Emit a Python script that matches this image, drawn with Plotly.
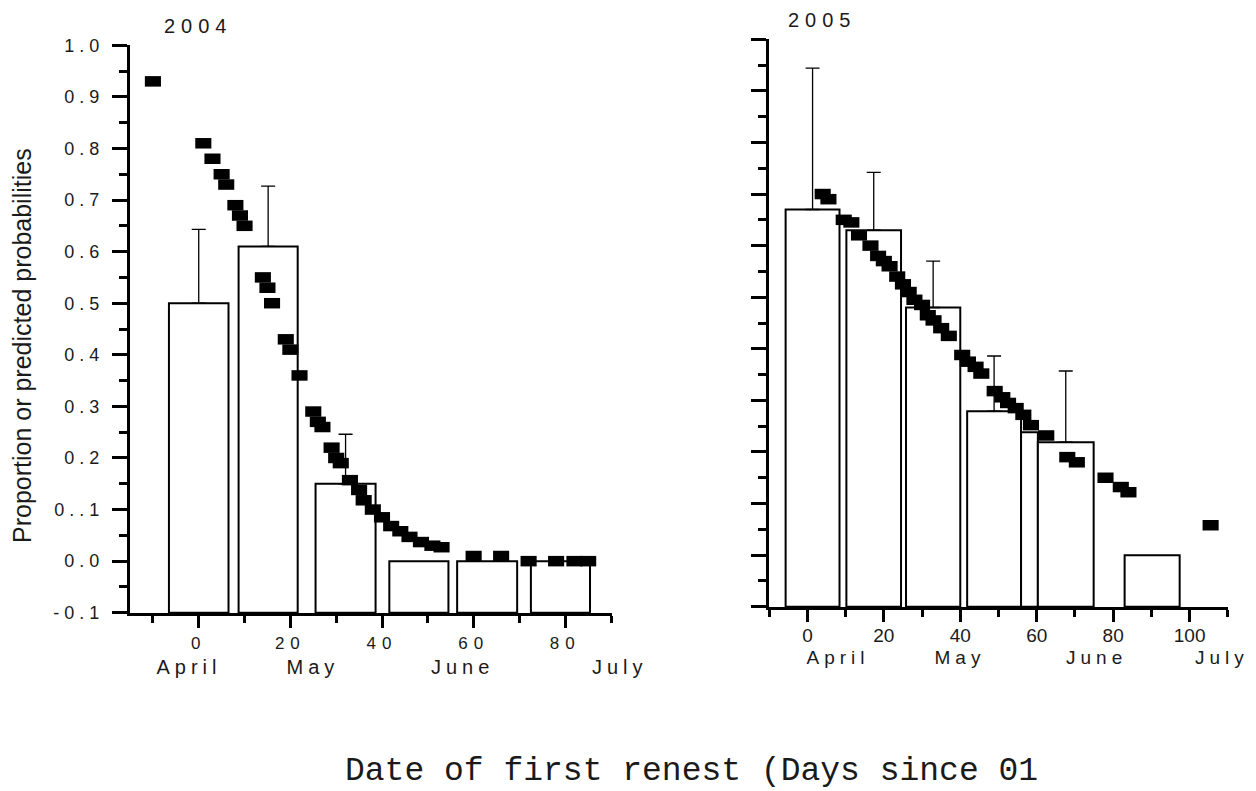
import plotly.graph_objects as go

# ---------------- data ----------------
# 2004: observed proportion renesting per date bin (days since 01 April)
bin_start_2004 = [-6.5, 8.7, 25.5, 41.6, 56.4, 72.5]
bin_end_2004 = [6.5, 21.6, 38.6, 54.5, 69.5, 85.4]
prop_2004 = [0.50, 0.61, 0.15, 0.0, 0.0, 0.0]
upper_2004 = [0.643, 0.727, 0.246, None, None, None]

# 2004: predicted probabilities
pred_day_2004 = [-10, 1, 3, 5, 6, 8, 9, 10, 14, 15, 16, 19, 20, 22, 25, 26, 27,
                 29, 30, 31, 33, 35, 36, 38, 40, 42, 44, 46, 48.5, 51, 53,
                 60, 66, 72, 78, 82, 85]
pred_prob_2004 = [0.93, 0.81, 0.78, 0.75, 0.73, 0.69, 0.67, 0.65, 0.55, 0.53, 0.50,
                  0.43, 0.41, 0.36, 0.29, 0.27, 0.26, 0.22, 0.20, 0.19, 0.157,
                  0.138, 0.118, 0.10, 0.085, 0.068, 0.058, 0.047, 0.037, 0.03,
                  0.027, 0.01, 0.01, 0.0, 0.0, 0.0, 0.0]

# 2005: observed proportion renesting per date bin
bin_start_2005 = [-5.7, 10.2, 25.8, 41.8, 55.9, 60.3, 83.0]
bin_end_2005 = [8.4, 24.5, 40.0, 55.9, 60.3, 74.9, 97.4]
prop_2005 = [0.67, 0.63, 0.48, 0.279, 0.238, 0.219, 0.0]
upper_2005 = [0.944, 0.742, 0.57, 0.386, None, 0.357, None]

# 2005: predicted probabilities
pred_day_2005 = [4, 5.5, 9.5, 11.5, 13.5, 16.5, 18.5, 20, 21.5, 23.5, 25, 26.5, 28,
                 30, 31.5, 33, 35, 37, 40.5, 42, 44, 45.5, 49, 51, 52.5, 54.5,
                 56.5, 58.5, 62.5, 68, 70.5, 78, 82, 84, 105.5]
pred_prob_2005 = [0.70, 0.69, 0.65, 0.645, 0.62, 0.60, 0.58, 0.57, 0.56, 0.54,
                  0.525, 0.51, 0.495, 0.485, 0.465, 0.455, 0.44, 0.425, 0.388,
                  0.375, 0.365, 0.352, 0.318, 0.306, 0.295, 0.285, 0.272, 0.252,
                  0.232, 0.19, 0.18, 0.15, 0.132, 0.122, 0.058]

# axis tick labels
y_tick_vals = [-0.1, 0.0, 0.1, 0.2, 0.3, 0.4, 0.5, 0.6, 0.7, 0.8, 0.9, 1.0]
y_tick_text = ["-0.1", "0.0", "0..1", "0.2", "0.3", "0.4", "0.5", "0.6",
               "0.7", "0.8", "0.9", "1.0"]
months = ["April", "May", "June", "July"]

# ---------------- figure ----------------
W, H = 1256, 791
FLOOR = -0.1
SANS = "Liberation Sans"
INK = "#1a1a1a"

X1_DOMAIN, X1_RANGE = [130 / W, 612 / W], [-15, 90.2]
X2_DOMAIN, X2_RANGE = [769 / W, 1228 / W], [-10.05, 110.05]

fig = go.Figure()


def add_panel(xa, ya, starts, ends, props, uppers, pdays, pprobs):
    centers = [(s + e) / 2 for s, e in zip(starts, ends)]
    widths = [e - s for s, e in zip(starts, ends)]
    # open bars rising from the bottom of the axis
    fig.add_trace(go.Bar(
        x=centers, y=[p - FLOOR for p in props], base=FLOOR, width=widths,
        marker=dict(color="white", line=dict(color="black", width=2)),
        xaxis=xa, yaxis=ya, showlegend=False, hoverinfo="skip"))
    # one-sided (upper) error bars
    keep = [i for i, u in enumerate(uppers) if u is not None]
    fig.add_trace(go.Scatter(
        x=[centers[i] for i in keep], y=[props[i] for i in keep],
        mode="markers", marker=dict(size=1, color="rgba(0,0,0,0)"),
        error_y=dict(type="data", symmetric=False,
                     array=[uppers[i] - props[i] for i in keep],
                     arrayminus=[0] * len(keep),
                     color="black", thickness=1.3, width=7),
        xaxis=xa, yaxis=ya, showlegend=False, hoverinfo="skip"))
    # predicted probabilities as filled rectangles
    fig.add_trace(go.Scatter(
        x=pdays, y=pprobs, mode="markers",
        marker=dict(symbol="line-ew", size=11.5, color="black",
                    line=dict(color="black", width=10.5)),
        xaxis=xa, yaxis=ya, showlegend=False))


add_panel("x", "y", bin_start_2004, bin_end_2004, prop_2004, upper_2004,
          pred_day_2004, pred_prob_2004)
add_panel("x2", "y2", bin_start_2005, bin_end_2005, prop_2005, upper_2005,
          pred_day_2005, pred_prob_2005)


def x_axis(domain, rng, anchor, standoff, size):
    return dict(domain=domain, range=rng, anchor=anchor, automargin=False,
                showline=True, linewidth=3, linecolor="black",
                ticks="outside", ticklen=12, tickwidth=2.5, tickcolor="black",
                tick0=0, dtick=20, showgrid=False, zeroline=False,
                tickfont=dict(family=SANS, size=size, color=INK),
                ticklabelstandoff=standoff,
                minor=dict(ticks="outside", tick0=0, dtick=10, ticklen=7,
                           tickwidth=2.5, tickcolor="black", showgrid=False))


def y_axis(domain, anchor, labels):
    return dict(domain=domain, range=[-0.1005, 1.0005], anchor=anchor,
                automargin=False,
                showline=True, linewidth=3, linecolor="black",
                ticks="outside", ticklen=15, tickwidth=2.5, tickcolor="black",
                tickmode="array", tickvals=y_tick_vals, ticktext=y_tick_text,
                showticklabels=labels, showgrid=False, zeroline=False,
                tickfont=dict(family=SANS, size=18, color=INK),
                ticklabelstandoff=4,
                minor=dict(ticks="outside", tick0=0, dtick=0.05, ticklen=8,
                           tickwidth=2.5, tickcolor="black", showgrid=False))


fig.update_layout(
    width=W, height=H, autosize=False,
    margin=dict(l=0, r=0, t=0, b=0, pad=0, autoexpand=False),
    paper_bgcolor="white", plot_bgcolor="white",
    showlegend=False, barmode="overlay",
    xaxis=x_axis(X1_DOMAIN, X1_RANGE, "y", 1, 17),
    yaxis=y_axis([1 - 613 / H, 1 - 45 / H], "x", True),
    xaxis2=x_axis(X2_DOMAIN, X2_RANGE, "y2", -3, 19),
    yaxis2=y_axis([1 - 607 / H, 1 - 39 / H], "x2", False),
)


def day_to_paper(day, domain, rng):
    """Map a day value onto paper x so labels past the axis end still show."""
    return domain[0] + (day - rng[0]) / (rng[1] - rng[0]) * (domain[1] - domain[0])


def label(text, x, y, size=18, family=SANS, angle=0):
    return dict(text=text, x=x, y=y, xref="paper", yref="paper",
                xanchor="center", yanchor="middle", textangle=angle,
                showarrow=False, font=dict(family=family, size=size, color=INK))


ann = [
    # panel titles
    label("2004", 198 / W, 1 - 26 / H, size=20),
    label("2005", 822 / W, 1 - 20 / H, size=20),
]
# month labels under the day ticks
for m, d in zip(months, [-2.2, 25.0, 57.6, 92.0]):
    ann.append(label(m, day_to_paper(d, X1_DOMAIN, X1_RANGE), 1 - 667 / H, size=20))
for m, d in zip(months, [8.0, 40.0, 75.6, 108.6]):
    ann.append(label(m, day_to_paper(d, X2_DOMAIN, X2_RANGE), 1 - 657 / H, size=19))
# y-axis title
ann.append(label("Proportion or predicted probabilities", 22 / W, 1 - 346 / H,
                 size=25, angle=-90))
# shared x-axis caption
ann.append(label("Date of first renest (Days since 01", 691 / W, 1 - 771 / H,
                 size=33, family="Liberation Mono"))
fig.update_layout(annotations=ann)

# widen the letter spacing of tick labels, month names and panel years
spacing_js = """
var gd = document.getElementById('{plot_id}');
gd.querySelectorAll('.xtick text').forEach(function(t){ t.style.letterSpacing = '6px'; });
gd.querySelectorAll('.ytick text').forEach(function(t){ t.style.letterSpacing = '5px'; });
gd.querySelectorAll('text.annotation-text').forEach(function(t){
  var s = t.textContent;
  if (/^(2004|2005)$/.test(s)) { t.style.letterSpacing = '6px'; }
  else if (/^(April|May|June|July)$/.test(s)) { t.style.letterSpacing = '5px'; }
});
"""

fig.write_html("out.html", post_script=spacing_js)
